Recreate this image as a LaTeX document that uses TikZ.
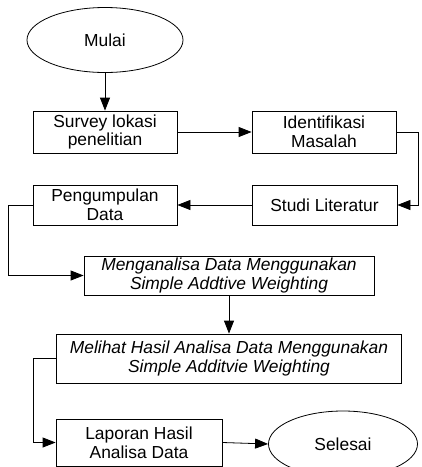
\documentclass[tikz,border=0pt]{standalone}
\usepackage{fontspec}
\setmainfont{Liberation Sans}
\usetikzlibrary{shapes.geometric,arrows.meta}
\begin{document}
\begin{tikzpicture}[x=1pt,y=-1pt,
  every node/.style={font=\fontsize{17.4}{18.6}\selectfont, align=center, inner sep=0pt},
  box/.style={draw, rectangle, line width=0.8pt},
  oval/.style={draw, ellipse, line width=0.8pt},
  conn/.style={line width=0.8pt, -{Triangle[length=13pt,width=10pt]}},
  plain/.style={line width=0.8pt}]
\useasboundingbox (0,0) rectangle (422,467);
\begin{scope}
\clip (0,0) rectangle (422,467);
\node[oval, minimum width=156, minimum height=65] (mulai) at (105,40) {Mulai};
\node[box, minimum width=144, minimum height=42] (survey) at (105,132) {Survey lokasi\\penelitian};
\node[box, minimum width=144, minimum height=42] (ident) at (324,132) {Identifikasi\\Masalah};
\node[box, minimum width=145, minimum height=40] (studi) at (324.5,205) {Studi Literatur};
\node[box, minimum width=144, minimum height=40] (peng) at (105,205) {Pengumpulan\\Data};
\node[box, minimum width=290, minimum height=39] (meng) at (229,275.5) {\itshape Menganalisa Data Menggunakan\\\itshape Simple Addtive Weighting};
\node[box, minimum width=345, minimum height=49] (lihat) at (229,358.5) {\itshape Melihat Hasil Analisa Data Menggunakan\\\itshape Simple Additvie Weighting};
\node[box, minimum width=166, minimum height=47] (lapor) at (139,442.5) {Laporan Hasil\\Analisa Data};
\node[oval, minimum width=149, minimum height=66] (selesai) at (343,444) {Selesai};

\draw[conn] (mulai.south) -- (survey.north);
\draw[conn] (survey.east) -- (ident.west);
\draw[conn] (ident.east) -- ++(22,0) |- (studi.east);
\draw[conn] (studi.west) -- (peng.east);
\draw[conn] (peng.west) -- ++(-24,0) |- (meng.west);
\draw[conn] (meng.south) -- (lihat.north);
\draw[conn] (lihat.west) -- ++(-23,0) |- (lapor.west);
\draw[conn] (lapor.east) -- (selesai.west);
\end{scope}
\end{tikzpicture}
\end{document}
